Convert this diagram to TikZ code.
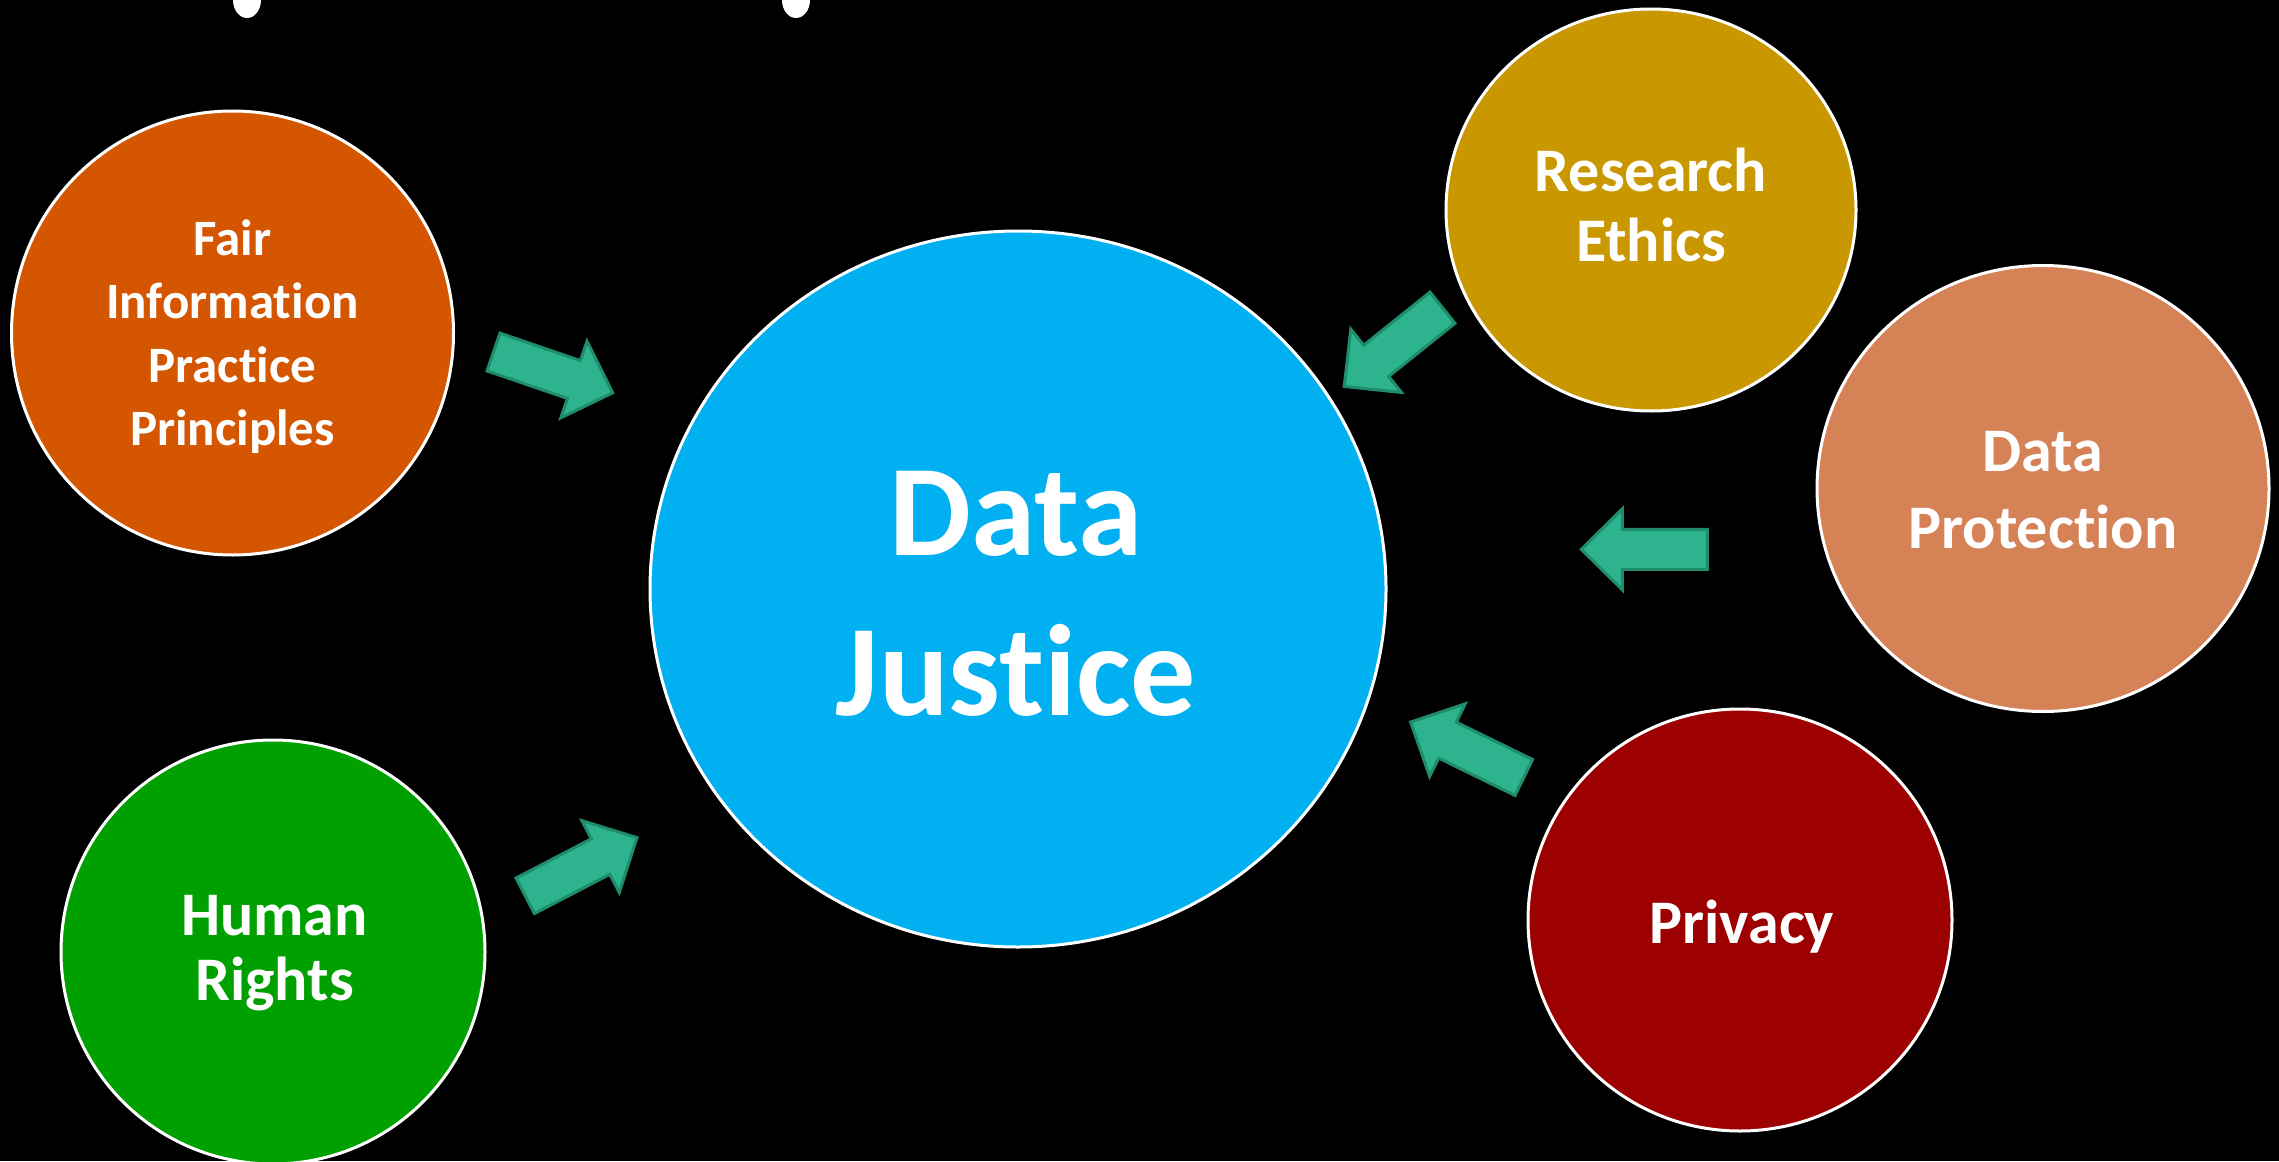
\documentclass[tikz,border=0pt]{standalone}
\usepackage{fontspec}
\setmainfont{Carlito}[Ligatures={NoCommon,NoDiscretionary,NoContextual}]
\usetikzlibrary{shapes.geometric}
\definecolor{djblue}{HTML}{00B0F0}
\definecolor{fairorange}{HTML}{D55600}
\definecolor{resgold}{HTML}{C99700}
\definecolor{dpsalmon}{HTML}{D68257}
\definecolor{privred}{HTML}{9C0000}
\definecolor{hrgreen}{HTML}{00A000}
\definecolor{arrowfill}{HTML}{2DB38D}
\definecolor{arrowline}{HTML}{1F8C6C}
\tikzset{
  bubble/.style={ellipse, draw=white, line width=1.5pt, inner sep=0pt},
  lbl/.style={text=white, align=center, text width=300pt, anchor=base, inner sep=0pt},
  arrowstyle/.style={fill=arrowfill, draw=arrowline, line width=1.5pt, line join=miter},
  blockarrow/.pic={\draw[arrowstyle] (0,-20) -- (85,-20) -- (85,-40.5) -- (126,0) -- (85,40.5) -- (85,20) -- (0,20) -- cycle;}
}
\begin{document}
\begin{tikzpicture}[x=0.5pt,y=-0.5pt]
\fill[black] (0,0) rectangle (2279,1161);
\useasboundingbox (0,0) rectangle (2279,1161);
% remains of title text at the top edge
\fill[white] (247,0) ellipse (14 and 18);
\fill[white] (796,0) ellipse (14 and 18);
% circles
\node[bubble, fill=djblue, minimum width=368pt, minimum height=358pt] (dj) at (1018,589) {};
\node[bubble, fill=fairorange, minimum width=221pt, minimum height=222pt] (fair) at (232.5,333) {};
\node[bubble, fill=hrgreen, minimum width=212pt, minimum height=212pt] (hr) at (273,952) {};
\node[bubble, fill=resgold, minimum width=205pt, minimum height=201pt] (res) at (1651,210) {};
\node[bubble, fill=dpsalmon, minimum width=226pt, minimum height=223pt] (dp) at (2043,488.5) {};
\node[bubble, fill=privred, minimum width=212pt, minimum height=211pt] (priv) at (1740,920) {};
% labels
\node[lbl, font=\bfseries\fontsize{65}{80}\selectfont] (djt) at (1016,555) {Data\\Justice};
\node[lbl, font=\bfseries\fontsize{25.5}{31.75}\selectfont] (fairt) at (232.5,255) {Fair\\Information\\Practice\\Principles};
\node[lbl, font=\bfseries\fontsize{31}{35}\selectfont] (rest) at (1651,191.7) {Research\\Ethics};
\node[lbl, font=\bfseries\fontsize{31}{38.3}\selectfont] (dpt) at (2043,471.7) {Data\\Protection};
\node[lbl, font=\bfseries\fontsize{31}{32.5}\selectfont] (hrt) at (274.5,935) {Human\\Rights};
\node[lbl, font=\bfseries\fontsize{31}{37}\selectfont] (privt) at (1742,943) {Privacy};
% block arrows
\pic[rotate=-18.9] at (493.5,352) {blockarrow};
\pic[rotate=-141.3] at (1442.5,307.7) {blockarrow};
\pic[rotate=180] at (1707.3,549.3) {blockarrow};
\pic[rotate=153.9] at (1523.8,777.5) {blockarrow};
\pic[rotate=27.5] at (525.2,895.8) {blockarrow};
\end{tikzpicture}
\end{document}
